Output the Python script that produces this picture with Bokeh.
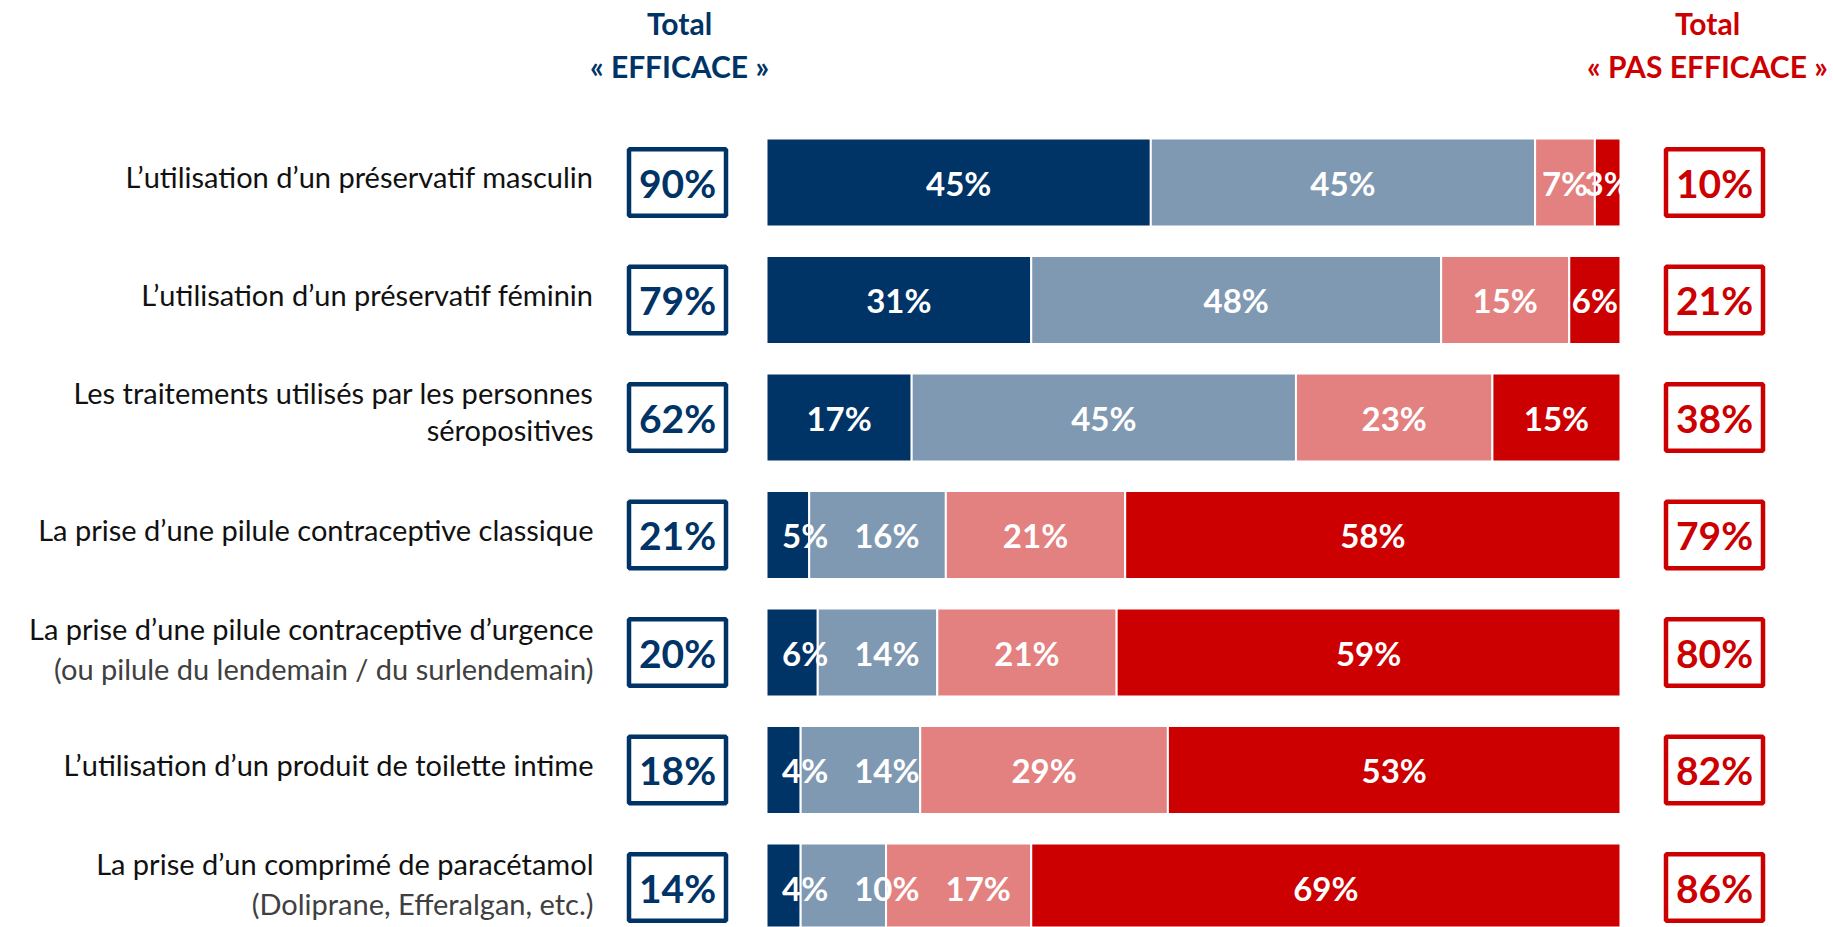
from bokeh.plotting import figure
from bokeh.models import Range1d
from bokeh.core.properties import value
from bokeh.embed import file_html
from bokeh.resources import INLINE

# ---------------- data ----------------
categories = [
    "L’utilisation d’un préservatif masculin",
    "L’utilisation d’un préservatif féminin",
    "Les traitements utilisés par les personnes\nséropositives",
    "La prise d’une pilule contraceptive classique",
    "La prise d’une pilule contraceptive d’urgence",
    "L’utilisation d’un produit de toilette intime",
    "La prise d’un comprimé de paracétamol",
]
notes = ["", "", "", "",
         "(ou pilule du lendemain / du surlendemain)",
         "",
         "(Doliprane, Efferalgan, etc.)"]
tres_efficace = [45, 31, 17, 5, 6, 4, 4]
plutot_efficace = [45, 48, 45, 16, 14, 14, 10]
plutot_pas_efficace = [7, 15, 23, 21, 21, 29, 17]
pas_du_tout_efficace = [3, 6, 15, 58, 59, 53, 69]
total_efficace = [90, 79, 62, 21, 20, 18, 14]
total_pas_efficace = [10, 21, 38, 79, 80, 82, 86]
title_left = ["Total", "« EFFICACE »"]
title_right = ["Total", "« PAS EFFICACE »"]

# ---------------- style / layout ----------------
NAVY = "#003366"
LIGHTBLUE = "#7F99B2"
PINK = "#E38080"
RED = "#CC0000"
seg_colors = [NAVY, LIGHTBLUE, PINK, RED]

W, H = 1833, 927
BAR_L, BAR_R = 766, 1620          # px of 0 % and 100 %
ROW0, PITCH = 182, 117.5          # px of first row centre, row pitch
BAR_H = 88
S = (BAR_R - BAR_L) / 100.0

FONT = value("Lato")


def xd(px):
    return (px - BAR_L) / S


def yd(px):
    return (px - ROW0) / PITCH


p = figure(width=W, height=H,
           x_range=Range1d(xd(0), xd(W)),
           y_range=Range1d(yd(H), yd(0)),
           output_backend="svg", toolbar_location=None,
           x_axis_location=None, y_axis_location=None,
           min_border=0, outline_line_color=None,
           background_fill_color="white", border_fill_color="white")
p.grid.visible = False

rows = list(range(len(categories)))
series = [tres_efficace, plutot_efficace, plutot_pas_efficace, pas_du_tout_efficace]

# stacked bars
left = [0.0] * len(rows)
for k, ser in enumerate(series):
    right = [l + v for l, v in zip(left, ser)]
    p.hbar(y=rows, left=left, right=right, height=BAR_H / PITCH,
           fill_color=seg_colors[k], line_color="white", line_width=2)
    left = right

# segment labels (pushed right when they would collide)
SEG_FS = 33


def est_w(txt):
    return sum(0.85 if c == "%" else 0.58 for c in txt) * SEG_FS


lx, ly, lt = [], [], []
for i in rows:
    start = 0.0
    prev_right = BAR_L + 15 - 25
    for k, ser in enumerate(series):
        v = ser[i]
        txt = f"{v}%"
        w = est_w(txt)
        cpx = BAR_L + (start + v / 2.0) * S
        lpx = cpx - w / 2
        if k < 3:
            lpx = max(lpx, prev_right + 25)
        cpx = lpx + w / 2
        prev_right = lpx + w
        lx.append(xd(cpx))
        ly.append(i)
        lt.append(txt)
        start += v
p.text(x=lx, y=ly, text=lt, text_color="white", text_font=FONT,
       text_font_style="bold", text_font_size=f"{SEG_FS}px",
       text_align="center", text_baseline="middle")

# total boxes
BOX_W, BOX_H = 97, 66.5
LBOX_X, RBOX_X = 677, 1714
for cx, vals, col in [(LBOX_X, total_efficace, NAVY), (RBOX_X, total_pas_efficace, RED)]:
    p.rect(x=[xd(cx)] * len(rows), y=rows, width=BOX_W / S, height=BOX_H / PITCH,
           fill_color="white", line_color=col, line_width=4.5)
    p.text(x=[xd(cx)] * len(rows), y=rows, text=[f"{v}%" for v in vals],
           text_color=col, text_font=FONT, text_font_style="bold",
           text_font_size="39px", text_align="center",
           text_baseline="middle")

# category labels
LAB_X = xd(593)
for i, cat in enumerate(categories):
    lines = cat.split("\n")
    note = notes[i]
    if len(lines) == 1 and not note:
        specs = [(lines[0], -6, "#111111")]
    elif note:
        specs = [(lines[0], -24, "#111111"), (note, 16, "#404040")]
    else:
        specs = [(lines[0], -25, "#111111"), (lines[1], 12, "#111111")]
    for txt, off, col in specs:
        p.text(x=[LAB_X], y=[i], text=[txt], text_color=col, text_font=FONT,
               text_font_size="29px", text_align="right",
               text_baseline="middle", y_offset=off)

# column titles
for cx, lines, col in [(679, title_left, NAVY), (1707, title_right, RED)]:
    for txt, my in zip(lines, [22, 65]):
        p.text(x=[xd(cx)], y=[yd(my)], text=[txt], text_color=col, text_font=FONT,
               text_font_style="bold", text_font_size="30px",
               text_align="center", text_baseline="middle")

html = file_html(p, INLINE)
with open("out.html", "w", encoding="utf-8") as f:
    f.write(html)
